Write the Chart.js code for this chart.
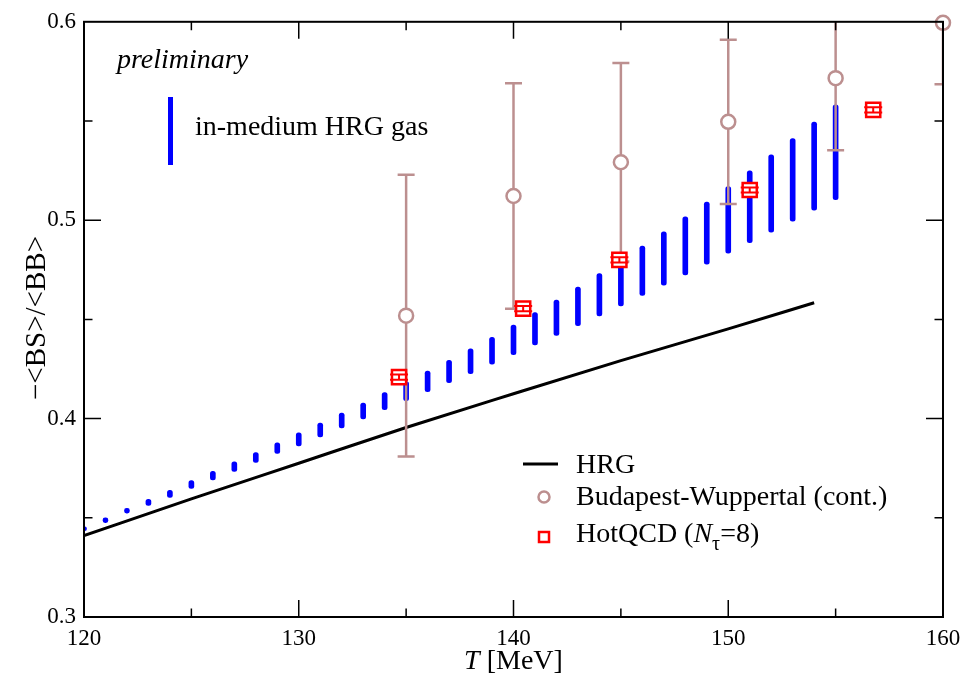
<!DOCTYPE html>
<html>
<head>
<meta charset="utf-8">
<script src="https://cdn.jsdelivr.net/npm/chart.js@4.4.1/dist/chart.umd.min.js"></script>
<style>
  html, body { margin: 0; padding: 0; background: #fff; }
  #wrap { width: 980px; height: 678px; position: relative; }
</style>
</head>
<body>
<div id="wrap"><canvas id="ratioChart"></canvas></div>
<script>
// in-medium HRG band: one vertical bar per temperature (low, high)
const bandT = [120, 121, 122, 123, 124, 125, 126, 127, 128, 129, 130, 131, 132, 133, 134, 135, 136, 137,
               138, 139, 140, 141, 142, 143, 144, 145, 146, 147, 148, 149, 150, 151, 152, 153, 154, 155];
const bandLow = [0.3435, 0.3475, 0.3523, 0.3563, 0.3603, 0.3648, 0.3691, 0.3734, 0.3779, 0.3824, 0.3862, 0.3908,
                 0.3953, 0.3998, 0.4045, 0.4091, 0.4136, 0.4181, 0.4227, 0.4274, 0.4322, 0.4372, 0.4419, 0.4468,
                 0.4518, 0.4568, 0.4621, 0.4673, 0.4724, 0.4779, 0.4834, 0.4887, 0.4940, 0.4995, 0.5051, 0.5104];
const bandHigh = [0.3455, 0.3500, 0.3548, 0.3593, 0.3638, 0.3688, 0.3734, 0.3782, 0.3829, 0.3878, 0.3928, 0.3978,
                  0.4028, 0.4078, 0.4131, 0.4186, 0.4239, 0.4294, 0.4352, 0.4410, 0.4471, 0.4535, 0.4598, 0.4663,
                  0.4731, 0.4797, 0.4870, 0.4942, 0.5017, 0.5091, 0.5170, 0.5249, 0.5329, 0.5411, 0.5495, 0.5581];

// ideal HRG curve
const hrgT = [120, 125, 130, 135, 140, 145, 150, 154];
const hrgVal = [0.341, 0.3595, 0.3775, 0.3955, 0.4125, 0.4292, 0.4452, 0.4584];

// Budapest-Wuppertal continuum
const bwT = [135, 140, 145, 150, 155, 160];
const bwVal = [0.4519, 0.5122, 0.5292, 0.5496, 0.5716, 0.5995];
const bwErr = [0.0710, 0.0568, 0.0500, 0.0414, 0.0364, 0.0310];

// HotQCD, N_tau = 8
const hqT = [134.67, 140.45, 144.93, 151.0, 156.75];
const hqVal = [0.4209, 0.4554, 0.4800, 0.5152, 0.5556];
const hqErr = [0.0013, 0.0013, 0.0013, 0.0013, 0.0013];

const xTicks = [120, 130, 140, 150, 160];
const yTicks = [0.3, 0.4, 0.5, 0.6];

const BROWN = '#bc8f8f';
const SERIF = '"Liberation Serif", "DejaVu Serif", serif';

function drawErrorBars(chart, ts, vals, errs, color, width, capW) {
    const ctx = chart.ctx;
    const xs = chart.scales.x, ys = chart.scales.y;
    const a = chart.chartArea;
    ctx.save();
    ctx.beginPath();
    ctx.rect(a.left, a.top, a.right - a.left, a.bottom - a.top);
    ctx.clip();
    ctx.strokeStyle = color;
    ctx.lineWidth = width;
    ctx.beginPath();
    ts.forEach(function (t, i) {
        const x = xs.getPixelForValue(t);
        const y1 = ys.getPixelForValue(vals[i] - errs[i]);
        const y2 = ys.getPixelForValue(vals[i] + errs[i]);
        ctx.moveTo(x, y1); ctx.lineTo(x, y2);
        ctx.moveTo(x - capW / 2, y1); ctx.lineTo(x + capW / 2, y1);
        ctx.moveTo(x - capW / 2, y2); ctx.lineTo(x + capW / 2, y2);
    });
    ctx.stroke();
    ctx.restore();
}

const decorations = {
    id: 'decorations',
    beforeDatasetDraw(chart, args) {
        if (args.index === 2) drawErrorBars(chart, bwT, bwVal, bwErr, BROWN, 2.5, 17);
    },
    afterDatasetDraw(chart, args) {
        if (args.index === 3) drawErrorBars(chart, hqT, hqVal, hqErr, '#ff0000', 2, 18);
    },
    afterDraw(chart) {
        const ctx = chart.ctx;
        const a = chart.chartArea;
        const xs = chart.scales.x, ys = chart.scales.y;
        ctx.save();

        // frame
        ctx.strokeStyle = '#000';
        ctx.lineWidth = 2;
        ctx.strokeRect(a.left, a.top, a.right - a.left, a.bottom - a.top);

        // inward ticks on all four sides
        ctx.lineWidth = 1.5;
        ctx.beginPath();
        for (let t = 125; t < 160; t += 5) {
            const x = xs.getPixelForValue(t);
            const len = t % 10 === 0 ? 17 : 8.5;
            ctx.moveTo(x, a.bottom); ctx.lineTo(x, a.bottom - len);
            ctx.moveTo(x, a.top); ctx.lineTo(x, a.top + len);
        }
        for (let k = 1; k < 6; k++) {
            const v = 0.3 + k * 0.05;
            const y = ys.getPixelForValue(v);
            const len = k % 2 === 0 ? 17 : 8.5;
            ctx.moveTo(a.left, y); ctx.lineTo(a.left + len, y);
            ctx.moveTo(a.right, y); ctx.lineTo(a.right - len, y);
        }
        ctx.stroke();

        ctx.fillStyle = '#000';
        ctx.textBaseline = 'alphabetic';

        // x axis title
        ctx.font = 'italic 28px ' + SERIF;
        const tW = ctx.measureText('T').width;
        ctx.font = '28px ' + SERIF;
        const restW = ctx.measureText(' [MeV]').width;
        let x0 = xs.getPixelForValue(140) - (tW + restW) / 2;
        ctx.font = 'italic 28px ' + SERIF;
        ctx.textAlign = 'left';
        ctx.fillText('T', x0, 669);
        ctx.font = '28px ' + SERIF;
        ctx.fillText(' [MeV]', x0 + tW, 669);

        // y axis title
        ctx.save();
        ctx.translate(45, 318);
        ctx.rotate(-Math.PI / 2);
        ctx.textAlign = 'center';
        ctx.font = '29px ' + SERIF;
        ctx.fillText('\u2212<BS>/<BB>', 0, 0);
        ctx.restore();

        // annotations in the upper left
        ctx.textAlign = 'left';
        ctx.font = 'italic 28px ' + SERIF;
        ctx.fillText('preliminary', 117, 68);
        ctx.fillStyle = '#0000ff';
        ctx.fillRect(168, 97, 5, 68);
        ctx.fillStyle = '#000';
        ctx.font = '28px ' + SERIF;
        ctx.fillText('in-medium HRG gas', 195, 135);

        // legend
        ctx.strokeStyle = '#000';
        ctx.lineWidth = 3;
        ctx.beginPath();
        ctx.moveTo(523, 464); ctx.lineTo(558, 464);
        ctx.stroke();
        ctx.fillText('HRG', 576, 473);

        ctx.strokeStyle = BROWN;
        ctx.lineWidth = 2.5;
        ctx.beginPath();
        ctx.arc(544, 497, 5.5, 0, Math.PI * 2);
        ctx.stroke();
        ctx.fillText('Budapest-Wuppertal (cont.)', 576, 505);

        ctx.strokeStyle = '#ff0000';
        ctx.lineWidth = 2.5;
        ctx.strokeRect(539, 532, 10, 10);
        let lx = 576;
        ctx.fillText('HotQCD (', lx, 542);
        lx += ctx.measureText('HotQCD (').width;
        ctx.font = 'italic 28px ' + SERIF;
        ctx.fillText('N', lx, 542);
        lx += ctx.measureText('N').width;
        ctx.font = '20px ' + SERIF;
        ctx.fillText('\u03c4', lx, 550);
        lx += ctx.measureText('\u03c4').width;
        ctx.font = '28px ' + SERIF;
        ctx.fillText('=8)', lx, 542);

        ctx.restore();
    }
};

const ctx = document.getElementById('ratioChart').getContext('2d');
const ratioChart = new Chart(ctx, {
    type: 'bar',
    data: {
        datasets: [
            {
                label: 'in-medium HRG gas',
                data: bandT.map((t, i) => ({ x: t, y: [bandLow[i], bandHigh[i]] })),
                backgroundColor: '#0000ff',
                borderWidth: 0,
                barThickness: 5,
                borderRadius: 2.5,
                borderSkipped: false,
                order: 4
            },
            {
                type: 'line',
                label: 'HRG',
                data: hrgT.map((t, i) => ({ x: t, y: hrgVal[i] })),
                borderColor: '#000',
                borderWidth: 3,
                pointRadius: 0,
                cubicInterpolationMode: 'monotone',
                fill: false,
                order: 3
            },
            {
                type: 'line',
                label: 'Budapest-Wuppertal (cont.)',
                data: bwT.map((t, i) => ({ x: t, y: bwVal[i] })),
                showLine: false,
                pointStyle: 'circle',
                pointRadius: 7,
                pointBorderWidth: 2.5,
                pointBorderColor: BROWN,
                pointBackgroundColor: '#fff',
                clip: false,
                order: 2
            },
            {
                type: 'line',
                label: 'HotQCD',
                data: hqT.map((t, i) => ({ x: t, y: hqVal[i] })),
                showLine: false,
                pointStyle: 'rect',
                pointRadius: 10,
                pointBorderWidth: 2.5,
                pointBorderColor: '#ff0000',
                pointBackgroundColor: '#fff',
                clip: false,
                order: 1
            }
        ]
    },
    options: {
        responsive: true,
        maintainAspectRatio: false,
        animation: false,
        layout: { padding: { top: 16, right: 37, left: 0, bottom: 0 } },
        plugins: {
            legend: { display: false },
            tooltip: { enabled: false }
        },
        scales: {
            x: {
                type: 'linear',
                min: 120,
                max: 160,
                offset: false,
                grid: { display: false, drawTicks: false },
                border: { display: false },
                afterBuildTicks: function (scale) {
                    scale.ticks = xTicks.map(v => ({ value: v }));
                },
                afterFit: function (scale) { scale.height = 61; },
                ticks: {
                    color: '#000',
                    padding: 8,
                    maxRotation: 0,
                    font: { family: SERIF, size: 23 },
                    callback: v => String(v)
                }
            },
            y: {
                type: 'linear',
                min: 0.3,
                max: 0.6,
                grid: { display: false, drawTicks: false },
                border: { display: false },
                afterBuildTicks: function (scale) {
                    scale.ticks = yTicks.map(v => ({ value: v }));
                },
                afterFit: function (scale) { scale.width = 84; },
                ticks: {
                    color: '#000',
                    padding: 8,
                    font: { family: SERIF, size: 23 },
                    callback: v => v.toFixed(1)
                }
            }
        }
    },
    plugins: [decorations]
});
</script>
</body>
</html>
